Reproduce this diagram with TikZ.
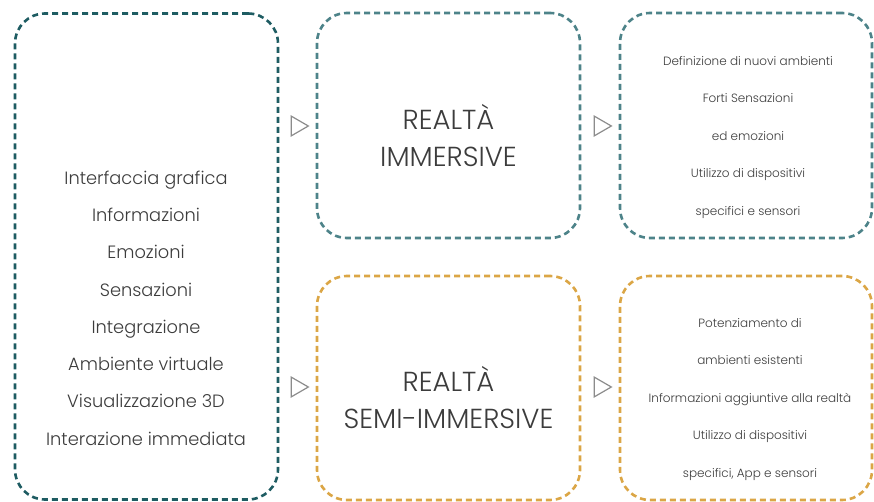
\documentclass[tikz,border=0pt]{standalone}
\usepackage{fontspec}
\setmainfont{Poppins Light}
\usetikzlibrary{shapes.geometric}
\definecolor{tealdark}{HTML}{1E5C62}
\definecolor{teallight}{HTML}{4D8389}
\definecolor{ochre}{HTML}{DBA646}
\definecolor{txt}{HTML}{3C3C3C}
\definecolor{tri}{HTML}{8C8C8C}
\tikzset{
  panel/.style={draw, line width=2.6pt, dash pattern=on 6pt off 4pt, rounded corners=30pt, inner sep=0pt},
  bigtxt/.style={text=txt, font=\fontsize{27.5}{37}\selectfont, align=center},
  midtxt/.style={text=txt, font=\fontsize{17.8}{37.3}\selectfont, align=center},
  smalltxt/.style={text=txt, font=\fontsize{12}{37.5}\selectfont, align=center},
  pointer/.style={isosceles triangle, draw=tri, line width=1.2pt, fill=white, minimum height=17pt, minimum width=18pt, isosceles triangle apex angle=60, inner sep=0pt}
}
\begin{document}
\begin{tikzpicture}[x=1pt,y=-1pt]
\useasboundingbox (0,0) rectangle (874,502);
% panels
\node[panel, draw=tealdark, minimum width=263pt, minimum height=486pt] (left) at (146.5,256.5) {};
\node[panel, draw=teallight, minimum width=263pt, minimum height=225pt] (imm) at (448.5,125.5) {};
\node[panel, draw=ochre, minimum width=263pt, minimum height=224pt] (semi) at (448.5,388) {};
\node[panel, draw=teallight, minimum width=252pt, minimum height=225pt] (immr) at (746,125.5) {};
\node[panel, draw=ochre, minimum width=252pt, minimum height=224pt] (semir) at (746,388) {};
% texts
\node[midtxt] (lefttxt) at (146,308) {Interfaccia grafica\\Informazioni\\Emozioni\\Sensazioni\\Integrazione\\Ambiente virtuale\\Visualizzazione 3D\\Interazione immediata};
\node[bigtxt] (immtxt) at (448.5,136) {REALTÀ\\IMMERSIVE};
\node[bigtxt] (semitxt) at (448.5,398) {REALTÀ\\SEMI-IMMERSIVE};
\node[smalltxt] (immrtxt) at (748,137.5) {Definizione di nuovi ambienti\\Forti Sensazioni\\ed emozioni\\Utilizzo di dispositivi\\specifici e sensori};
\node[smalltxt] (semirtxt) at (750,399.5) {Potenziamento di\\ambienti esistenti\\Informazioni aggiuntive alla realtà\\Utilizzo di dispositivi\\specifici, App e sensori};
% pointers between panels
\node[pointer] (p1) at (297,126) {};
\node[pointer] (p2) at (600,126) {};
\node[pointer] (p3) at (297,387) {};
\node[pointer] (p4) at (600,387) {};
\end{tikzpicture}
\end{document}
